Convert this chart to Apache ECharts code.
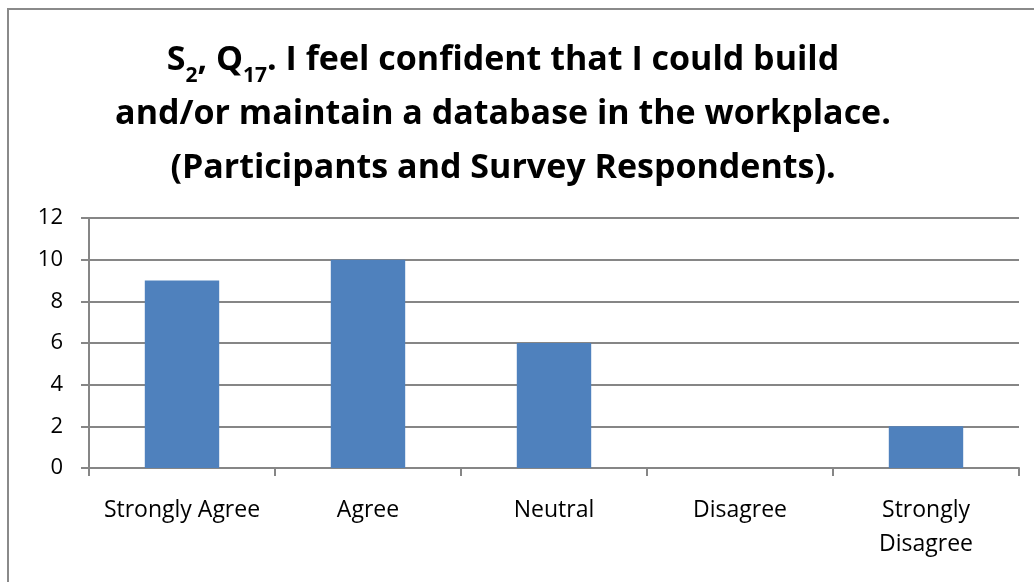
<!DOCTYPE html>
<html>
<head>
<meta charset="utf-8">
<script src="https://cdn.jsdelivr.net/npm/echarts@6/dist/echarts.min.js"></script>
<style>
  html, body { margin: 0; padding: 0; background: #fff; }
  #chart { width: 1034px; height: 582px; }
</style>
</head>
<body>
<div id="chart"></div>
<script>
// data
var categories = ['Strongly Agree', 'Agree', 'Neutral', 'Disagree', 'Strongly\nDisagree'];
var counts = [9, 10, 6, 0, 2];
var yTicks = { min: 0, max: 12, interval: 2 };

(function () {
    var myChart = echarts.init(document.getElementById('chart'));
    var font = 'Open Sans';
    var option = {
        backgroundColor: '#fff',
        animation: false,
        graphic: [
            // outer frame (only left/top edges are visible in the picture)
            {
                type: 'rect',
                shape: { x: 8, y: 9, width: 1200, height: 800 },
                style: { fill: 'none', stroke: '#8a8a8a', lineWidth: 2 }
            },
            // title with subscripts
            {
                type: 'text',
                x: 503,
                y: 33,
                style: {
                    text: '{m|S}{s|2}{m|, Q}{s|17}{m|. I feel confident that I could build}\n' +
                          '{m|and/or maintain a database in the workplace.}\n' +
                          '{m|(Participants and Survey Respondents).}',
                    align: 'center',
                    textAlign: 'center',
                    verticalAlign: 'top',
                    rich: {
                        m: { fontFamily: font, fontWeight: 'bold', fontSize: 34, lineHeight: 54, fill: '#000', color: '#000' },
                        s: { fontFamily: font, fontWeight: 'bold', fontSize: 21, lineHeight: 18, fill: '#000', color: '#000',
                             verticalAlign: 'bottom' }
                    }
                }
            }
        ],
        grid: {
            left: 89,
            right: 15,
            top: 218,
            bottom: 114
        },
        xAxis: {
            type: 'category',
            data: categories,
            axisLine: { lineStyle: { color: '#868686', width: 2 } },
            axisTick: { show: true, interval: 0, length: 8, lineStyle: { color: '#868686', width: 2 } },
            axisLabel: {
                interval: 0,
                hideOverlap: false,
                color: '#000',
                fontFamily: font,
                fontSize: 23,
                lineHeight: 34,
                margin: 25
            }
        },
        yAxis: {
            type: 'value',
            min: yTicks.min,
            max: yTicks.max,
            interval: yTicks.interval,
            axisLine: { show: true, lineStyle: { color: '#868686', width: 2 } },
            axisTick: { show: true, length: 8, lineStyle: { color: '#868686', width: 2 } },
            axisLabel: {
                color: '#000',
                fontFamily: font,
                fontSize: 22,
                margin: 26
            },
            splitLine: { lineStyle: { color: '#868686', width: 2 } }
        },
        series: [{
            type: 'bar',
            data: counts,
            barWidth: '40%',
            itemStyle: { color: '#4f81bd' }
        }]
    };
    myChart.setOption(option);
})();
</script>
</body>
</html>
